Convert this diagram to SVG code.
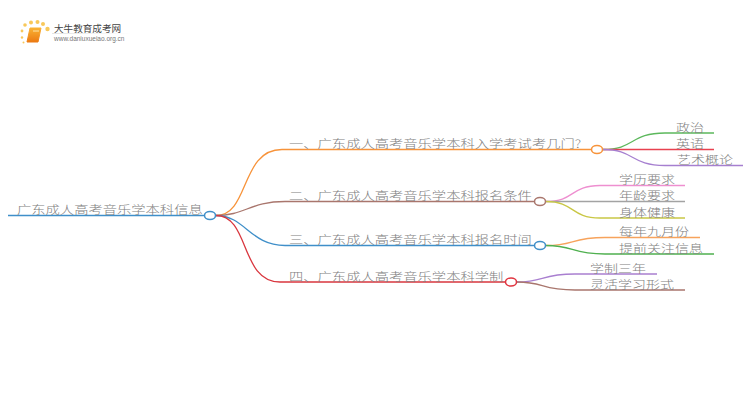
<svg xmlns="http://www.w3.org/2000/svg" width="750" height="410" viewBox="0 0 750 410">
<style>
text{font-family:"Noto Sans CJK SC","Liberation Sans",sans-serif;font-size:14px;fill:#808080;font-weight:300}
.b{font-size:14.300px}
.c{fill:none;stroke-width:1.3}
.n{fill:#fff;stroke-width:1.5}
</style>
<rect width="750" height="410" fill="#fff"/>
<g id="logo">
<defs><linearGradient id="lg" x1="0" y1="0" x2="0" y2="1"><stop offset="0" stop-color="#f9b233"/><stop offset="1" stop-color="#ec7a12"/></linearGradient>
<linearGradient id="ul" x1="0" y1="0" x2="1" y2="0"><stop offset="0" stop-color="#ddd"/><stop offset="1" stop-color="#fff"/></linearGradient></defs>
<g fill="#f8c85a"><circle cx="22" cy="31" r="1.400"/><circle cx="25" cy="25" r="1.800"/><circle cx="31" cy="22.500" r="2"/><circle cx="37.500" cy="22" r="2"/><circle cx="43" cy="24" r="2"/><circle cx="47.500" cy="29" r="2.200"/><circle cx="22" cy="37.500" r="1.200"/><circle cx="23.500" cy="42.500" r="1"/></g>
<path d="M30 28H41L38 42H27Z" fill="url(#lg)" stroke="url(#lg)" stroke-linejoin="round"/>
<path d="M33 31H39" stroke="#fbe3a8" stroke-width="1"/>
<rect x="52" y="33" width="80" height="0.800" fill="url(#ul)"/>
<text x="54" y="32" style="font-size:9.600px;fill:#444;font-weight:400">大牛教育成考网</text>
<text x="54" y="41" style="font-size:6.500px;fill:#777;font-weight:400;font-family:'Liberation Sans',sans-serif">www.daniuxueiao.org.cn</text>
</g>
<g id="connectors">
<path class="c" stroke="#3f8fc9" style="stroke-width:1.500" d="M8 215.500H204"/>
<path class="c" stroke="#f7933a" d="M216 215.500C250 215.500 240 149.500 282 149.500H591"/>
<path class="c" stroke="#a9766d" d="M216 215.500C245 215.500 250 201.500 285 201.500H534"/>
<path class="c" stroke="#3f8fc9" d="M216 215.500C245 215.500 250 245.500 285 245.500H534"/>
<path class="c" stroke="#d9363e" d="M216 215.500C250 215.500 240 282 280 282H505"/>
<path class="c" stroke="#5cb85c" d="M603 149.500C635 149.500 630 133 665 133H714"/>
<path class="c" stroke="#e8414f" d="M603 149.500H714"/>
<path class="c" stroke="#a67fd0" d="M603 149.500C635 149.500 630 165.500 665 165.500H743"/>
<path class="c" stroke="#ee8fd0" d="M546 201.500C575 201.500 570 185.500 600 185.500H685"/>
<path class="c" stroke="#a3a3a3" d="M546 201.500H685"/>
<path class="c" stroke="#c9c745" d="M546 201.500C575 201.500 570 218 600 218H685"/>
<path class="c" stroke="#f7a35c" d="M546 245.500C575 245.500 570 237.500 605 237.500H700"/>
<path class="c" stroke="#4fb04f" d="M546 245.500C575 245.500 570 254 605 254H714"/>
<path class="c" stroke="#a97fd0" d="M517 282C545 282 540 274 575 274H657"/>
<path class="c" stroke="#a9766d" d="M517 282C545 282 540 290 575 290H685"/>
</g>
<g id="root"><text class="b" transform="translate(17 214) scale(1 .8)">广东成人高考音乐学本科信息</text><ellipse class="n" stroke="#3f8fc9" cx="210" cy="215.500" rx="5.500" ry="4"/></g>
<g id="b1"><text class="b" transform="translate(289 147.500) scale(1 .8)">一、广东成人高考音乐学本科入学考试考几门?</text><ellipse class="n" stroke="#f7933a" cx="597" cy="149.500" rx="5.500" ry="4"/></g>
<g id="b2"><text class="b" transform="translate(289 200) scale(1 .8)">二、广东成人高考音乐学本科报名条件</text><ellipse class="n" stroke="#a9766d" cx="540" cy="201.500" rx="5.500" ry="4"/></g>
<g id="b3"><text class="b" transform="translate(289 244) scale(1 .8)">三、广东成人高考音乐学本科报名时间</text><ellipse class="n" stroke="#3f8fc9" cx="540" cy="245.500" rx="5.500" ry="4"/></g>
<g id="b4"><text class="b" transform="translate(289 280.500) scale(1 .8)">四、广东成人高考音乐学本科学制</text><ellipse class="n" stroke="#e0343f" cx="511" cy="282" rx="5.500" ry="4"/></g>
<g id="c11"><text transform="translate(676 131.500) scale(1 .8)">政治</text></g>
<g id="c12"><text transform="translate(676 148) scale(1 .8)">英语</text></g>
<g id="c13"><text transform="translate(677 164) scale(1 .8)">艺术概论</text></g>
<g id="c21"><text transform="translate(619 184) scale(1 .8)">学历要求</text></g>
<g id="c22"><text transform="translate(619 200) scale(1 .8)">年龄要求</text></g>
<g id="c23"><text transform="translate(619 216.500) scale(1 .8)">身体健康</text></g>
<g id="c31"><text transform="translate(619 236) scale(1 .8)">每年九月份</text></g>
<g id="c32"><text transform="translate(619 252.500) scale(1 .8)">提前关注信息</text></g>
<g id="c41"><text transform="translate(590 272.500) scale(1 .8)">学制三年</text></g>
<g id="c42"><text transform="translate(590 288.500) scale(1 .8)">灵活学习形式</text></g>
</svg>
